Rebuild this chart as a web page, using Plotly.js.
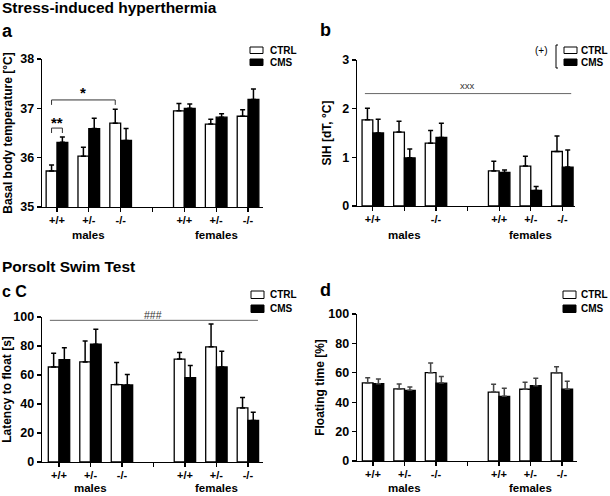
<!DOCTYPE html>
<html>
<head>
<meta charset="utf-8">
<script src="https://cdn.plot.ly/plotly-3.0.1.min.js"></script>
<style>html,body{margin:0;padding:0;background:#fff;}#chart{width:610px;height:496px;}</style>
</head>
<body>
<div id="chart"></div>
<script>
// ---------- data ----------
const sexes = ["males", "females"];
const genotypes = ["+/+", "+/-", "-/-"];
const tickLabelsFull = ["+/+", "+/-", "-/-", "", "+/+", "+/-", "-/-"];
const tickLabelsB = ["+/+", "", "-/-", "", "+/+", "+/-", "-/-"];
const seriesNames = ["CTRL", "CMS"];

// a: basal body temperature [°C]
const tempCtrl = [35.73, 36.03, 36.70, 36.95, 36.68, 36.84];
const tempCtrlErr = [0.12, 0.18, 0.28, 0.15, 0.10, 0.13];
const tempCms = [36.31, 36.59, 36.35, 37.00, 36.82, 37.18];
const tempCmsErr = [0.11, 0.21, 0.24, 0.09, 0.07, 0.21];

// b: SIH [dT, °C]
const sihCtrl = [1.77, 1.52, 1.29, 0.72, 0.82, 1.12];
const sihCtrlErr = [0.24, 0.22, 0.26, 0.20, 0.20, 0.32];
const sihCms = [1.50, 0.99, 1.41, 0.69, 0.32, 0.80];
const sihCmsErr = [0.28, 0.18, 0.29, 0.05, 0.08, 0.35];

// c: latency to float [s]
const latCtrl = [65.5, 69.0, 53.4, 71.0, 79.4, 37.3];
const latCtrlErr = [9.5, 14.5, 15.2, 4.6, 15.8, 7.2];
const latCms = [70.5, 81.2, 53.1, 58.1, 65.5, 28.7];
const latCmsErr = [8.3, 10.3, 7.3, 8.4, 10.8, 5.6];

// d: floating time [%]
const floatCtrl = [53.1, 49.0, 60.1, 46.9, 48.8, 60.0];
const floatCtrlErr = [3.5, 3.4, 6.6, 5.3, 4.8, 4.2];
const floatCms = [52.6, 48.1, 53.0, 44.0, 51.2, 48.8];
const floatCmsErr = [3.1, 2.3, 4.5, 5.5, 5.1, 5.5];

// ---------- helpers ----------
const W = 610, H = 496;
const PX = x => x / W;
const PY = y => 1 - y / H;
const FONT = '"Liberation Sans", Arial, Helvetica, sans-serif';
const BARGAP = 0.32;
const HALF = (1 - BARGAP) / 4; // offset of a bar centre from the group centre

// slot positions: males 0..2, break at 3, females 4..6
const xs = [];
sexes.forEach((s, si) => genotypes.forEach((g, gi) => xs.push(si * (genotypes.length + 1) + gi)));
const tickVals = tickLabelsFull.map((_, i) => i);
const zeros = xs.map(() => 0);

function barTrace(vals, errs, isCtrl, n, errColor) {
  const ax = n === 1 ? '' : String(n);
  return {
    type: 'bar', x: xs, y: vals, name: isCtrl ? seriesNames[0] : seriesNames[1],
    xaxis: 'x' + ax, yaxis: 'y' + ax, showlegend: false,
    marker: { color: isCtrl ? '#ffffff' : '#000000', line: { color: '#000000', width: 1.3 } },
    error_y: { type: 'data', symmetric: false, array: errs, arrayminus: zeros,
               color: errColor || '#000000', thickness: 1.5, width: 2.5 },
    hoverinfo: 'skip'
  };
}

const data = [
  barTrace(tempCtrl, tempCtrlErr, true, 1), barTrace(tempCms, tempCmsErr, false, 1),
  barTrace(sihCtrl, sihCtrlErr, true, 2), barTrace(sihCms, sihCmsErr, false, 2),
  barTrace(latCtrl, latCtrlErr, true, 3), barTrace(latCms, latCmsErr, false, 3),
  barTrace(floatCtrl, floatCtrlErr, true, 4, '#444'), barTrace(floatCms, floatCmsErr, false, 4, '#444')
];

function xAxis(dom, range, labels, anchor) {
  return {
    domain: [PX(dom[0]), PX(dom[1])], range: range, anchor: anchor,
    tickmode: 'array', tickvals: tickVals, ticktext: labels,
    showline: true, linecolor: '#000', linewidth: 1.3,
    ticks: 'outside', ticklen: 4, tickwidth: 1.3, tickcolor: '#000',
    ticklabelstandoff: -2,
    showgrid: false, zeroline: false, fixedrange: true,
    tickfont: { family: FONT, size: 11, color: '#000', weight: 'bold' }
  };
}
function yAxis(dom, range, dtick, title, standoff, anchor) {
  return {
    domain: [PY(dom[1]), PY(dom[0])], range: range, anchor: anchor,
    tickmode: 'linear', tick0: range[0], dtick: dtick,
    showline: true, linecolor: '#000', linewidth: 1.3,
    ticks: 'outside', ticklen: 4, tickwidth: 1.3, tickcolor: '#000',
    showgrid: false, zeroline: false, fixedrange: true,
    tickfont: { family: FONT, size: 12.5, color: '#000', weight: 'bold' },
    title: { text: title, standoff: standoff, font: { family: FONT, size: 12, color: '#000', weight: 'bold' } }
  };
}

const shapes = [];
const annotations = [];

function txt(x, y, text, size, opts) {
  annotations.push(Object.assign({
    xref: 'paper', yref: 'paper', x: PX(x), y: PY(y), text: text, showarrow: false,
    xanchor: 'left', yanchor: 'middle',
    font: { family: FONT, size: size, color: '#000', weight: 'bold' }
  }, opts || {}));
}
function rect(x0, y0, x1, y1, fill) {
  shapes.push({ type: 'rect', xref: 'paper', yref: 'paper', x0: PX(x0), x1: PX(x1), y0: PY(y1), y1: PY(y0),
    fillcolor: fill, line: { color: '#000', width: 1 } });
}
function legend(x, yTop, gap, h, textX) {
  rect(x, yTop, x + 13, yTop + h, '#ffffff');
  rect(x, yTop + gap, x + 13, yTop + gap + h, '#000000');
  txt(textX, yTop + h / 2, seriesNames[0], 10);
  txt(textX, yTop + gap + h / 2, seriesNames[1], 10);
}

// titles and panel letters
txt(0, 8, 'Stress-induced hyperthermia', 15.5);
txt(0, 266, 'Porsolt Swim Test', 15.5);
txt(0, 31, 'a', 18);
txt(318, 30, 'b', 18);
txt(0, 291, 'c C', 16);
txt(318, 290, 'd', 18);

// legends
legend(250, 47, 12, 6.5, 268);
legend(564, 47, 12, 6.5, 579);
legend(251, 291, 14, 7.5, 268);
legend(563, 291, 14, 7.5, 579);
txt(550, 51, '(+)', 10, { xanchor: 'right', font: { family: FONT, size: 10, color: '#000' } });
shapes.push({ type: 'path', xref: 'paper', yref: 'paper',
  path: `M ${PX(558)},${PY(45)} L ${PX(556)},${PY(45)} L ${PX(556)},${PY(68)} L ${PX(558)},${PY(68)}`,
  line: { color: '#000', width: 1 } });

// group labels under x axes
function groupLabels(ax, yPix) {
  sexes.forEach((s, si) => {
    annotations.push({ xref: ax, yref: 'paper', x: si * (genotypes.length + 1) + 1, y: PY(yPix),
      text: s, showarrow: false, xanchor: 'center', yanchor: 'middle',
      font: { family: FONT, size: 11.5, color: '#000', weight: 'bold' } });
  });
}
groupLabels('x', 235);
groupLabels('x2', 235);
groupLabels('x3', 488);
groupLabels('x4', 488);

// significance marks, panel a
shapes.push({ type: 'path', xref: 'x', yref: 'y',
  path: `M ${-HALF},37.07 L ${-HALF},37.17 L ${2 - HALF},37.17 L ${2 - HALF},37.07`,
  line: { color: '#333', width: 1 } });
shapes.push({ type: 'path', xref: 'x', yref: 'y',
  path: `M ${-HALF},36.50 L ${-HALF},36.60 L ${HALF},36.60 L ${HALF},36.50`,
  line: { color: '#333', width: 1 } });
annotations.push({ xref: 'x', yref: 'y', x: 0.83, y: 37.22, text: '*', showarrow: false,
  yanchor: 'bottom', yshift: -6, font: { family: FONT, size: 15, color: '#000', weight: 'bold' } });
annotations.push({ xref: 'x', yref: 'y', x: 0, y: 36.62, text: '**', showarrow: false,
  yanchor: 'bottom', yshift: -6, font: { family: FONT, size: 15, color: '#000', weight: 'bold' } });

// panel b "xxx" line
shapes.push({ type: 'line', xref: 'x2', yref: 'y2', x0: -0.25, x1: 6.28, y0: 2.31, y1: 2.31,
  line: { color: '#666', width: 1 } });
annotations.push({ xref: 'x2', yref: 'y2', x: 3, y: 2.33, text: 'xxx', showarrow: false,
  yanchor: 'bottom', font: { family: FONT, size: 9.5, color: '#333' } });

// panel c "###" line
shapes.push({ type: 'line', xref: 'x3', yref: 'y3', x0: -0.29, x1: 6.32, y0: 97.7, y1: 97.7,
  line: { color: '#666', width: 1 } });
annotations.push({ xref: 'x3', yref: 'y3', x: 3, y: 98, text: '###', showarrow: false,
  yanchor: 'bottom', yshift: -3, font: { family: FONT, size: 10.5, color: '#333' } });

const layout = {
  width: W, height: H, margin: { l: 0, r: 0, t: 0, b: 0 },
  paper_bgcolor: '#fff', plot_bgcolor: 'rgba(0,0,0,0)',
  barmode: 'group', bargap: BARGAP, bargroupgap: 0, showlegend: false,
  font: { family: FONT, color: '#000' },
  xaxis: xAxis([42, 263], [-0.47, 6.47], tickLabelsFull, 'y'),
  yaxis: yAxis([59, 207], [35, 38], 1, 'Basal body temperature [°C]', 5, 'x'),
  xaxis2: xAxis([357, 575], [-0.5, 6.4], tickLabelsB, 'y2'),
  yaxis2: yAxis([60, 206], [0, 3], 1, 'SIH [dT, °C]', 8, 'x2'),
  xaxis3: xAxis([42, 263], [-0.54, 6.48], tickLabelsFull, 'y3'),
  yaxis3: yAxis([317, 462], [0, 100], 20, 'Latency to float [s]', 1, 'x3'),
  xaxis4: xAxis([357, 577], [-0.51, 6.48], tickLabelsFull, 'y4'),
  yaxis4: yAxis([314, 461], [0, 100], 20, 'Floating time [%]', 1, 'x4'),
  shapes: shapes, annotations: annotations
};

Plotly.newPlot('chart', data, layout, { staticPlot: true, displayModeBar: false });
</script>
</body>
</html>
